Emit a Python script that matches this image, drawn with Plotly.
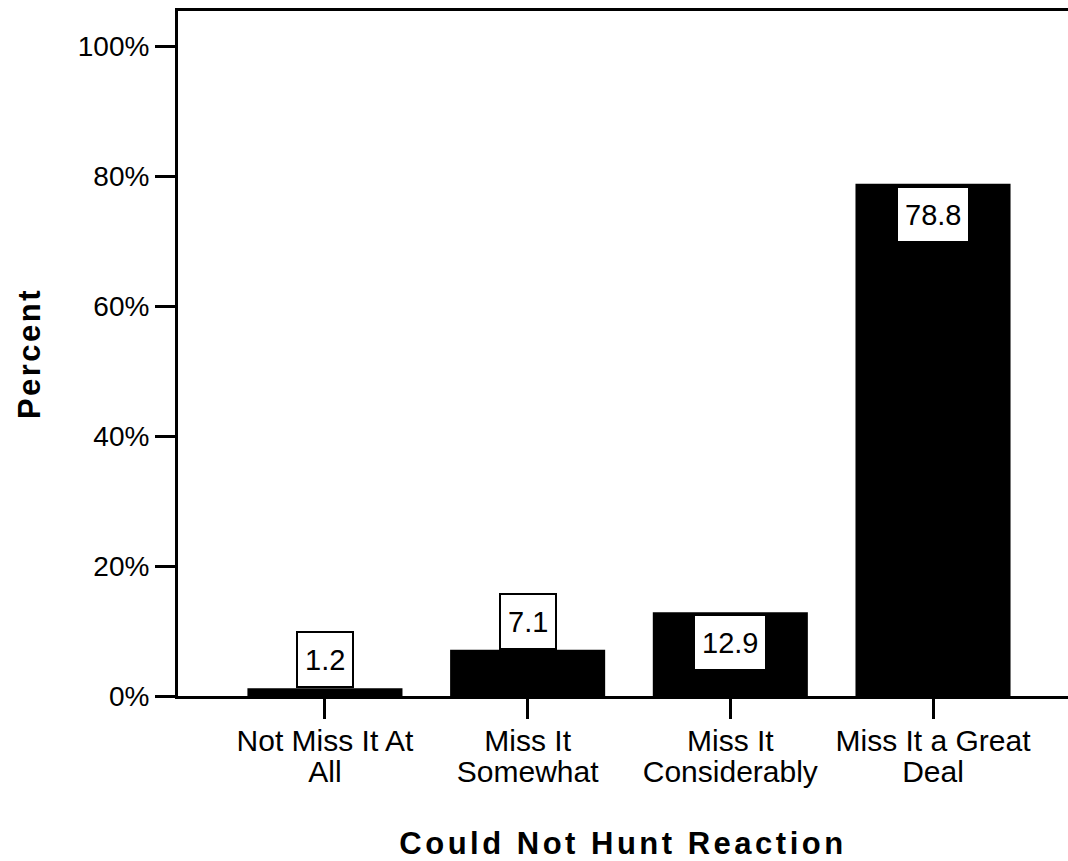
import plotly.graph_objects as go

categories = ["Not Miss It At All", "Miss It Somewhat", "Miss It Considerably", "Miss It a Great Deal"]
tick_lines = [["Not Miss It At", "All"], ["Miss It", "Somewhat"], ["Miss It", "Considerably"], ["Miss It a Great", "Deal"]]
percents = [1.2, 7.1, 12.9, 78.8]
y_tick_vals = [0, 20, 40, 60, 80, 100]
y_tick_text = ["0%", "20%", "40%", "60%", "80%", "100%"]

FONT = "Liberation Sans, Arial, sans-serif"

tick_text = ["<br>".join(f'<span style="font-size:30px">{ln}</span>' for ln in lines)
             for lines in tick_lines]

fig = go.Figure()
fig.add_trace(go.Bar(
    x=categories, y=percents,
    marker=dict(color="black", line=dict(width=0)),
    width=0.765,
    hoverinfo="skip",
))

for cat, v in zip(categories, percents):
    inside = v >= 10
    fig.add_annotation(
        x=cat, y=v, xref="x", yref="y",
        text=f"{v:.1f}", showarrow=False,
        yanchor="top" if inside else "bottom",
        yshift=-2 if inside else 0,
        font=dict(family=FONT, size=29, color="black"),
        bgcolor="white", bordercolor="black", borderwidth=2, borderpad=7,
        height=39,
    )

fig.update_layout(
    width=1068, height=861,
    margin=dict(l=178, r=0, t=11, b=165),
    paper_bgcolor="white", plot_bgcolor="white",
    showlegend=False,
    font=dict(family=FONT, color="black"),
    xaxis=dict(
        range=[-0.725, 3.666],
        tickvals=categories, ticktext=tick_text,
        showline=True, linecolor="black", linewidth=3, mirror=True,
        ticks="outside", ticklen=20, tickwidth=3, tickcolor="black",
        tickfont=dict(family=FONT, size=24, color="black"),
        ticklabelstandoff=3,
        showgrid=False, zeroline=False,
        title=dict(text='<span style="letter-spacing:3.5px"><b>Could Not Hunt Reaction</b></span>',
                   font=dict(family=FONT, size=31, color="black"), standoff=46),
    ),
    yaxis=dict(
        range=[0, 105.4],
        tickvals=y_tick_vals, ticktext=y_tick_text,
        showline=True, linecolor="black", linewidth=3,
        ticks="outside", ticklen=20, tickwidth=3, tickcolor="black",
        tickfont=dict(family=FONT, size=28, color="black"),
        showgrid=False, zeroline=False,
        title=dict(text='<span style="letter-spacing:2.5px"><b>Percent</b></span>',
                   font=dict(family=FONT, size=31, color="black"), standoff=28),
    ),
)

fig.write_html(
    "out.html",
    config={"displayModeBar": False},
    post_script="document.body.style.margin='0';document.body.style.overflow='hidden';",
)
